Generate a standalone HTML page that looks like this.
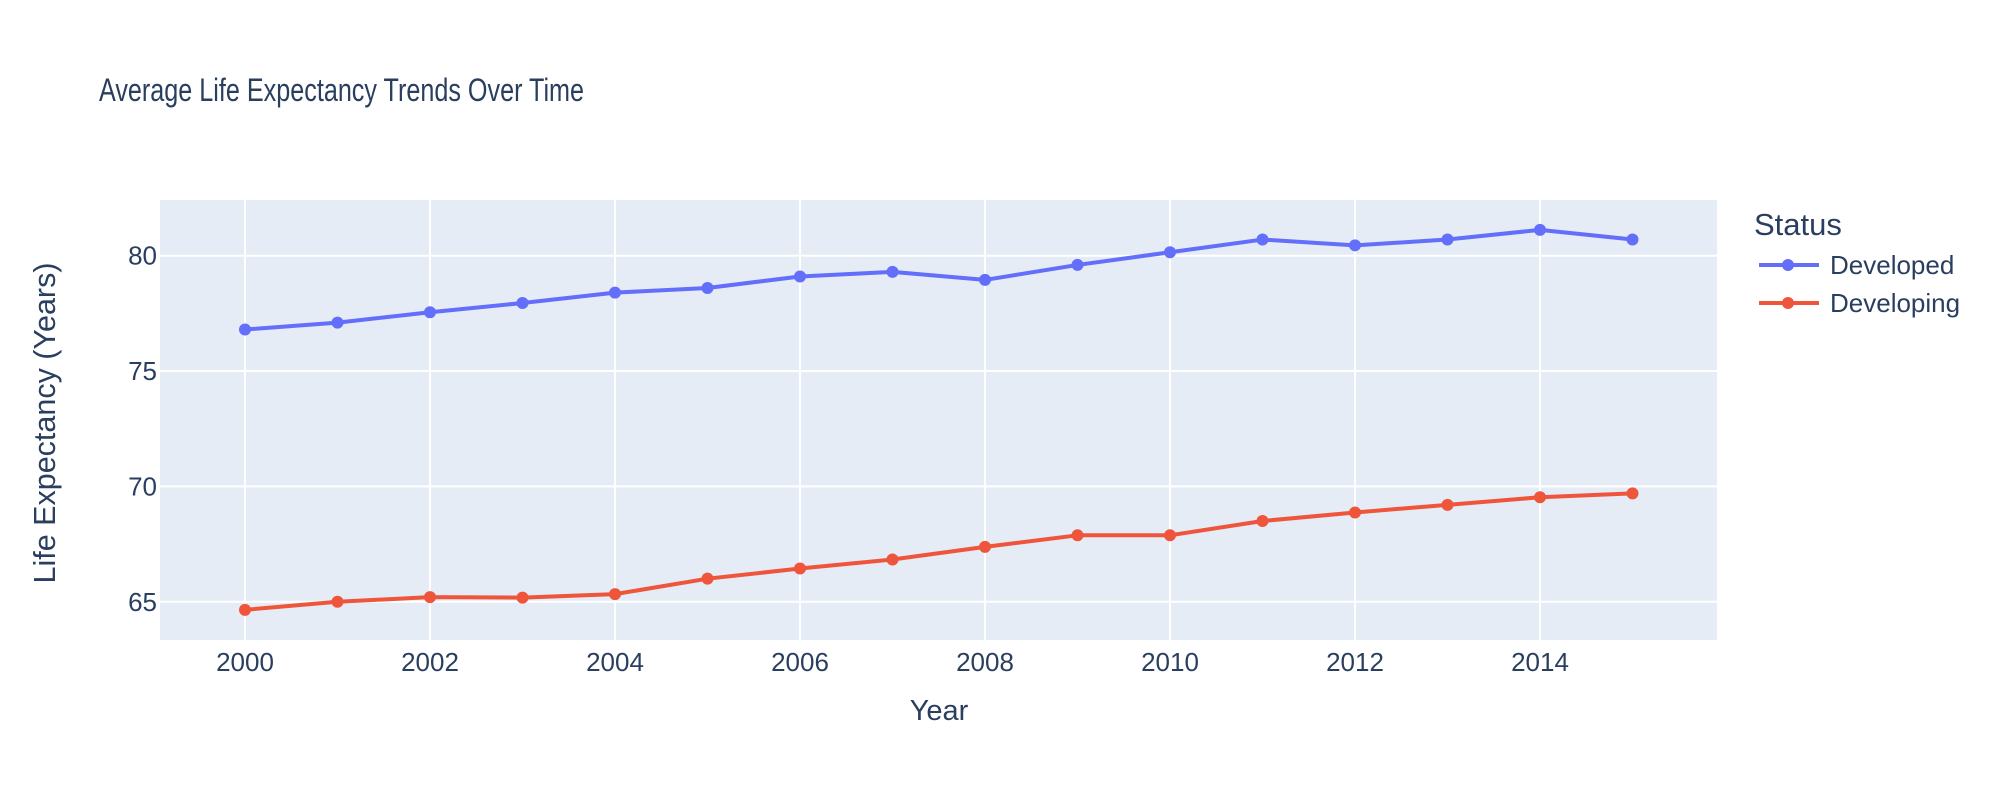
<!DOCTYPE html>
<html><head><meta charset="utf-8"><style>
html,body{margin:0;padding:0;background:#fff;}
svg{display:block;font-family:"Liberation Sans","DejaVu Sans",sans-serif;}
</style></head><body>
<svg id="chart" width="2000" height="800" xmlns="http://www.w3.org/2000/svg">
<rect x="0" y="0" width="2000" height="800" fill="#fff"/>
<text x="99" y="101" font-size="32" fill="#2a3f5f" textLength="485" lengthAdjust="spacingAndGlyphs">Average Life Expectancy Trends Over Time</text>
<rect x="160" y="200" width="1557" height="440" fill="#e5ecf6"/>
<g id="grid"></g>
<g id="series"></g>
<g id="ticks" fill="#2a3f5f" font-size="26"></g>
<text x="939" y="720" font-size="29" fill="#2a3f5f" text-anchor="middle">Year</text>
<text transform="translate(55,423) rotate(-90)" font-size="30.5" fill="#2a3f5f" text-anchor="middle">Life Expectancy (Years)</text>
<g>
<text x="1754" y="235" font-size="31" fill="#2a3f5f">Status</text>
<g>
<line x1="1759" y1="265" x2="1819" y2="265" stroke="#636efa" stroke-width="4"/>
<circle cx="1788" cy="265" r="6" fill="#636efa"/>
<text x="1830" y="274" font-size="26" fill="#2a3f5f">Developed</text>
</g>
<g>
<line x1="1759" y1="303" x2="1819" y2="303" stroke="#EF553B" stroke-width="4"/>
<circle cx="1788" cy="303" r="6" fill="#EF553B"/>
<text x="1830" y="312" font-size="26" fill="#2a3f5f">Developing</text>
</g>
</g>
</svg>
<script>
const years = [2000,2001,2002,2003,2004,2005,2006,2007,2008,2009,2010,2011,2012,2013,2014,2015];
const developed = [76.8,77.1,77.55,77.95,78.4,78.6,79.1,79.3,78.95,79.6,80.15,80.7,80.45,80.7,81.12,80.7];
const developing = [64.65,65.0,65.2,65.18,65.33,66.0,66.44,66.83,67.38,67.88,67.88,68.5,68.87,69.2,69.53,69.7];
const xTicks = [2000,2002,2004,2006,2008,2010,2012,2014];
const yTicks = [65,70,75,80];

const NS = "http://www.w3.org/2000/svg";
function xs(v){ return 245 + (v - 2000) * 92.5; }
function ys(v){ return 255.7 + (80 - v) * 23.07; }
function mk(tag, attrs, parent){ const e = document.createElementNS(NS, tag); for (const k in attrs) e.setAttribute(k, attrs[k]); parent.appendChild(e); return e; }

const grid = document.getElementById('grid');
const ticks = document.getElementById('ticks');
xTicks.forEach(t => {
  const l = mk('line', {x1: xs(t), x2: xs(t), y1: 200, y2: 640, stroke: '#fff', 'stroke-width': 2}, grid);
  
  
  const tx = mk('text', {x: xs(t), y: 671, 'text-anchor': 'middle'}, ticks);
  tx.textContent = t;
  
  
});
yTicks.forEach(t => {
  const l = mk('line', {x1: 160, x2: 1717, y1: ys(t), y2: ys(t), stroke: '#fff', 'stroke-width': 2}, grid);
  
  
  const tx = mk('text', {x: 157, y: ys(t) + 9, 'text-anchor': 'end'}, ticks);
  tx.textContent = t;
  
  
});

const series = document.getElementById('series');
function drawSeries(vals, color, name){
  const g = mk('g', {}, series);
  
  
  const pts = vals.map((v, i) => xs(years[i]) + ',' + ys(v)).join(' ');
  const pl = mk('polyline', {points: pts, fill: 'none', stroke: color, 'stroke-width': 4, 'stroke-linejoin': 'round'}, g);
  
  
  vals.forEach((v, i) => {
    const c = mk('circle', {cx: xs(years[i]), cy: ys(v), r: 6, fill: color}, g);
    
    
  });
}
drawSeries(developed, '#636efa', 'developed-series');
drawSeries(developing, '#EF553B', 'developing-series');
</script>
</body></html>
